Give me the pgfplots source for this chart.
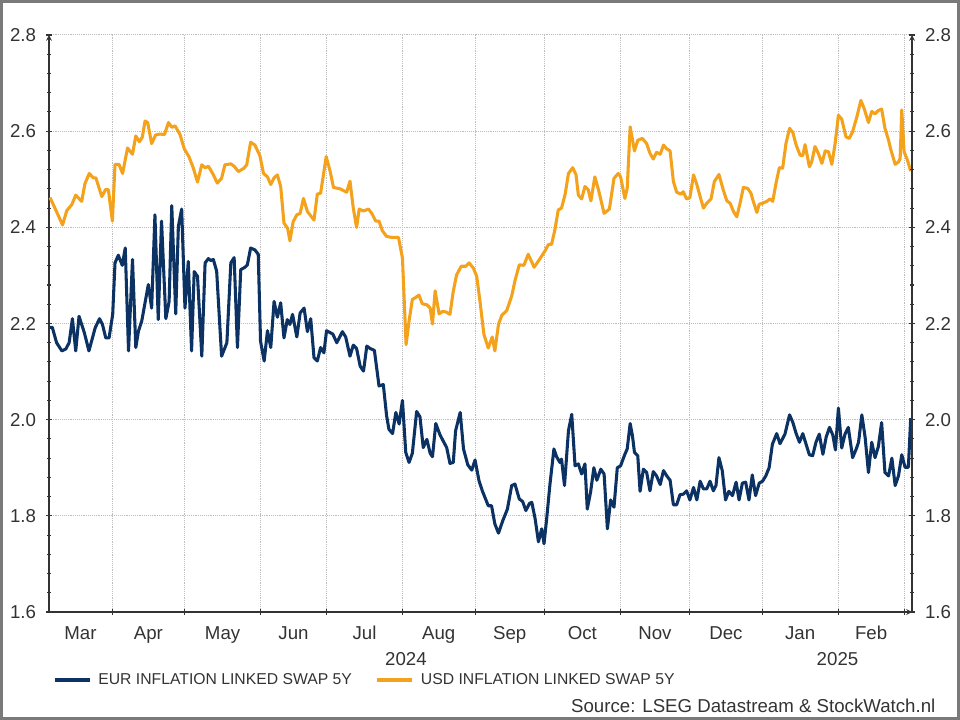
\documentclass[border=0pt]{standalone}
\usepackage{fontspec}
\setmainfont{Liberation Sans}
\usepackage{pgfplots}
\pgfplotsset{compat=1.18}

\definecolor{eurblue}{HTML}{0B3262}
\definecolor{usdorange}{HTML}{F4A11C}
\definecolor{txt}{HTML}{333333}
\definecolor{gridgray}{HTML}{BDBDBD}
\definecolor{framegray}{HTML}{7A7A7A}

% x axis = business-day index, 0 = 1 Mar 2024
\pgfplotstableread{
x y
2.2 2.192
2.9 2.192
4.2 2.160
5.8 2.143
7.0 2.147
8.0 2.160
9.0 2.210
10.0 2.143
11.0 2.215
12.6 2.181
14.0 2.143
15.9 2.191
17.2 2.210
18.1 2.198
19.1 2.170
20.1 2.170
21.2 2.219
21.9 2.326
22.9 2.342
24.1 2.321
25.0 2.357
26.0 2.143
27.2 2.333
28.2 2.150
29.0 2.184
30.0 2.205
31.0 2.243
32.0 2.281
33.0 2.232
34.0 2.426
35.0 2.208
36.0 2.413
37.3 2.210
38.3 2.246
39.1 2.445
40.3 2.220
41.1 2.402
42.1 2.438
43.1 2.232
44.1 2.329
45.1 2.143
45.9 2.308
46.9 2.298
48.2 2.132
49.2 2.326
50.2 2.335
50.9 2.331
51.7 2.333
52.7 2.309
54.2 2.132
55.8 2.160
57.0 2.326
58.0 2.337
59.0 2.150
60.0 2.312
61.3 2.317
62.0 2.322
63.0 2.357
64.3 2.353
65.3 2.344
66.0 2.163
67.1 2.122
68.1 2.185
69.1 2.150
70.1 2.246
71.1 2.213
72.1 2.243
73.1 2.170
74.1 2.208
74.9 2.198
75.7 2.219
77.0 2.172
78.0 2.222
79.2 2.232
80.2 2.183
81.2 2.210
82.2 2.129
83.2 2.122
84.2 2.150
85.2 2.139
86.0 2.185
87.9 2.178
89.1 2.160
90.8 2.183
91.8 2.172
93.1 2.132
94.1 2.155
95.1 2.148
96.2 2.111
97.2 2.101
98.2 2.153
99.2 2.148
100.5 2.144
101.9 2.070
103.2 2.073
104.2 2.008
104.9 1.980
106.0 1.971
107.0 2.015
108.0 1.991
109.0 2.040
110.0 1.932
111.0 1.911
112.0 1.930
113.3 2.017
114.3 2.006
115.3 1.942
116.4 1.959
117.4 1.930
118.1 1.923
119.1 1.992
120.4 1.968
121.4 1.955
122.4 1.942
123.4 1.909
124.4 1.911
125.1 1.977
126.5 2.015
127.5 1.939
128.8 1.906
130.0 1.895
131.0 1.916
132.2 1.873
133.2 1.852
135.0 1.821
136.0 1.821
137.0 1.783
138.1 1.764
139.4 1.790
140.8 1.814
142.1 1.863
143.1 1.866
144.4 1.835
145.4 1.830
146.4 1.811
147.5 1.826
148.2 1.828
149.2 1.794
150.2 1.746
151.2 1.773
151.9 1.742
152.7 1.794
153.7 1.866
154.9 1.939
155.7 1.923
156.7 1.911
157.2 1.918
158.1 1.863
159.3 1.977
160.3 2.011
161.3 1.904
162.3 1.908
163.3 1.887
164.3 1.908
165.0 1.814
166.0 1.849
167.0 1.900
167.9 1.874
169.1 1.897
170.1 1.887
171.1 1.773
172.1 1.833
173.1 1.818
174.1 1.900
175.1 1.904
176.4 1.928
177.1 1.939
178.0 1.992
178.7 1.966
179.3 1.932
180.3 1.925
181.0 1.851
182.0 1.897
183.0 1.890
184.0 1.852
185.0 1.892
186.0 1.883
187.1 1.865
188.1 1.894
189.1 1.883
190.1 1.874
191.1 1.823
192.1 1.823
193.1 1.844
194.1 1.845
195.1 1.852
196.1 1.833
197.2 1.859
198.2 1.833
199.2 1.872
200.2 1.856
201.2 1.856
202.2 1.872
203.2 1.852
204.0 1.863
204.9 1.921
205.9 1.894
206.9 1.833
207.9 1.851
209.0 1.842
210.1 1.870
211.0 1.833
212.0 1.868
213.0 1.870
214.0 1.833
215.0 1.885
216.0 1.842
217.1 1.868
218.1 1.872
219.1 1.883
220.1 1.900
221.1 1.949
222.4 1.971
223.4 1.950
224.9 1.970
226.3 2.010
227.3 1.994
228.3 1.971
229.3 1.953
230.3 1.971
231.3 1.949
232.3 1.927
233.3 1.925
234.3 1.953
235.3 1.970
236.4 1.928
237.4 1.964
238.4 1.984
239.4 1.968
240.2 1.937
241.1 2.024
242.1 1.941
243.1 1.970
244.1 1.984
245.4 1.921
246.5 1.939
247.2 1.953
248.2 2.010
249.2 1.963
250.2 1.890
251.2 1.953
252.2 1.921
253.2 1.944
254.2 1.994
255.2 1.890
256.3 1.883
257.3 1.920
258.3 1.863
259.3 1.883
260.3 1.927
261.3 1.901
262.3 1.901
263.0 2.003
}\eurdata

\pgfplotstableread{
x y
2.2 2.462
3.7 2.440
6.0 2.405
7.3 2.435
8.8 2.447
10.0 2.467
11.8 2.454
12.8 2.491
14.1 2.512
15.3 2.503
16.1 2.503
17.9 2.464
19.1 2.479
19.9 2.478
21.1 2.413
21.9 2.531
23.1 2.531
24.2 2.512
25.7 2.565
27.2 2.552
28.2 2.590
29.3 2.578
30.2 2.588
31.0 2.621
31.8 2.618
33.0 2.574
34.2 2.592
35.5 2.594
36.9 2.593
38.1 2.618
39.1 2.608
40.1 2.611
41.6 2.593
42.9 2.563
44.3 2.547
45.6 2.524
46.9 2.494
48.2 2.530
49.2 2.524
50.2 2.527
51.5 2.512
52.9 2.492
54.2 2.502
55.2 2.530
57.0 2.532
58.0 2.527
59.3 2.516
61.0 2.523
61.8 2.530
63.0 2.577
64.3 2.571
65.8 2.549
66.9 2.512
68.1 2.505
69.1 2.489
70.1 2.503
71.1 2.509
72.1 2.485
73.1 2.409
74.2 2.398
74.9 2.372
75.9 2.412
77.0 2.426
78.0 2.429
79.0 2.460
80.2 2.433
82.2 2.415
83.2 2.469
84.2 2.471
85.9 2.547
87.1 2.516
88.1 2.483
90.1 2.480
92.1 2.473
93.1 2.496
94.1 2.440
95.1 2.400
95.9 2.438
97.2 2.434
98.7 2.438
99.7 2.429
100.9 2.413
101.9 2.413
102.9 2.393
104.2 2.381
105.8 2.379
107.8 2.379
109.0 2.336
110.1 2.156
111.0 2.205
112.0 2.250
113.0 2.254
114.0 2.259
115.0 2.241
116.4 2.239
117.4 2.232
118.1 2.199
118.9 2.268
120.1 2.220
121.1 2.225
122.2 2.224
123.4 2.219
124.4 2.267
125.4 2.301
126.8 2.319
128.2 2.319
129.2 2.326
130.5 2.315
131.5 2.298
132.5 2.246
133.2 2.205
133.7 2.177
135.0 2.149
136.2 2.172
137.0 2.143
138.1 2.198
139.1 2.217
140.6 2.227
142.1 2.257
143.1 2.289
144.4 2.322
145.8 2.321
147.1 2.344
148.9 2.317
150.5 2.333
152.2 2.351
153.2 2.364
154.2 2.365
155.2 2.395
156.2 2.436
157.2 2.440
158.3 2.469
159.3 2.512
160.6 2.524
161.6 2.509
162.3 2.467
163.3 2.459
164.3 2.485
165.3 2.478
166.1 2.455
167.3 2.505
168.4 2.478
170.1 2.429
171.7 2.438
173.1 2.502
174.4 2.512
175.1 2.505
176.4 2.460
177.1 2.481
178.0 2.609
179.3 2.559
180.3 2.581
181.7 2.585
183.0 2.574
184.0 2.554
185.0 2.542
186.0 2.556
187.1 2.552
188.1 2.571
189.1 2.563
190.1 2.559
191.1 2.495
192.1 2.473
193.4 2.469
194.1 2.474
195.1 2.459
196.1 2.462
197.2 2.509
198.2 2.489
199.2 2.464
200.2 2.440
201.2 2.450
202.5 2.459
203.5 2.495
204.9 2.510
206.2 2.478
207.3 2.455
208.3 2.450
209.3 2.433
210.3 2.422
211.3 2.450
212.3 2.483
213.6 2.481
214.6 2.471
215.3 2.454
216.4 2.431
217.1 2.448
218.1 2.450
219.4 2.454
220.4 2.459
221.2 2.454
222.2 2.492
223.2 2.524
224.2 2.523
225.2 2.574
226.3 2.606
227.3 2.597
228.3 2.571
229.5 2.550
230.3 2.549
231.0 2.572
232.3 2.526
233.0 2.536
234.0 2.568
235.0 2.554
236.1 2.533
237.1 2.559
238.1 2.557
239.1 2.531
240.1 2.574
241.1 2.633
242.1 2.625
243.4 2.588
244.4 2.585
245.4 2.599
246.7 2.630
247.9 2.664
248.9 2.647
250.2 2.618
251.2 2.641
252.2 2.636
253.2 2.643
254.2 2.646
255.2 2.606
256.3 2.581
257.0 2.561
258.3 2.531
259.3 2.536
259.8 2.543
260.3 2.644
261.0 2.557
262.0 2.540
263.0 2.517
}\usddata

\pgfplotsset{
  common/.style={
    scale only axis, width=647.25pt, height=432.75pt,
    at={(0,0)}, anchor=south west,
    xmin=1.9, xmax=263.4, ymin=1.6, ymax=2.8,
    axis line style={-, draw=txt, line width=0.9pt},
    tick align=outside,
    major tick length=4.5pt, minor tick length=2.4pt,
    every tick/.style={draw=txt, line width=0.8pt},
    ytick={1.6,1.8,2.0,2.2,2.4,2.6,2.8},
    yticklabels={1.6,1.8,2.0,2.2,2.4,2.6,2.8},
    minor y tick num=4,
    tick label style={font=\fontsize{14}{16}\selectfont, text=txt},
  },
}

\begin{document}
\begin{tikzpicture}[x=0.75pt,y=0.75pt]
\path[use as bounding box] (-49,-108) rectangle (911,612);
\draw[framegray, line width=1.9pt] (-47.75,-106.75) rectangle (909.75,610.75);

\begin{axis}[common,
  axis x line=bottom, axis y line=left,
  ymajorgrids,
  grid style={densely dotted, gridgray, line width=0.75pt},
  xtick={21,43,66,86,109,131,152,175,196,218,241,261},
  xticklabels={},
  xmajorgrids,
  extra x ticks={11.45,32,54.5,76,97.5,120,141.5,163.5,185.5,207,229.5,251},
  extra x tick labels={Mar,Apr,May,Jun,Jul,Aug,Sep,Oct,Nov,Dec,Jan,Feb},
  extra x tick style={grid=none, major tick length=0pt,
    tick label style={anchor=base, yshift=-20.5pt}},
  yticklabel style={anchor=east, xshift=-4pt},
  legend columns=2,
  legend style={at={(axis description cs:0.005,-0.1179)}, anchor=west,
    draw=none, fill=none, inner sep=0pt, outer sep=0pt,
    font=\fontsize{11.8}{13}\selectfont, text=txt,
    nodes={inner sep=0pt},
    /tikz/every odd column/.append style={column sep=5.25pt},
    /tikz/every even column/.append style={column sep=18pt}},
  legend image code/.code={\draw[#1] (0pt,0pt) -- (26.25pt,0pt);},
]
\addplot[eurblue, line width=2.3pt, line join=round] table {\eurdata};
\addlegendentry{EUR INFLATION LINKED SWAP 5Y}
\addplot[usdorange, line width=2.3pt, line join=round] table {\usddata};
\addlegendentry{USD INFLATION LINKED SWAP 5Y}
\end{axis}

\begin{axis}[common,
  axis x line=none, axis y line=right,
  yticklabel style={anchor=west, xshift=4pt},
]
\end{axis}

\node[anchor=base, font=\fontsize{14}{16}\selectfont, text=txt] at (357,-54) {2024};
\node[anchor=base, font=\fontsize{14}{16}\selectfont, text=txt] at (788.5,-54) {2025};
\node[anchor=base east, font=\fontsize{14}{16}\selectfont, text=txt] at (891,-101) {Source: LSEG Datastream \& StockWatch.nl};
\end{tikzpicture}
\end{document}
